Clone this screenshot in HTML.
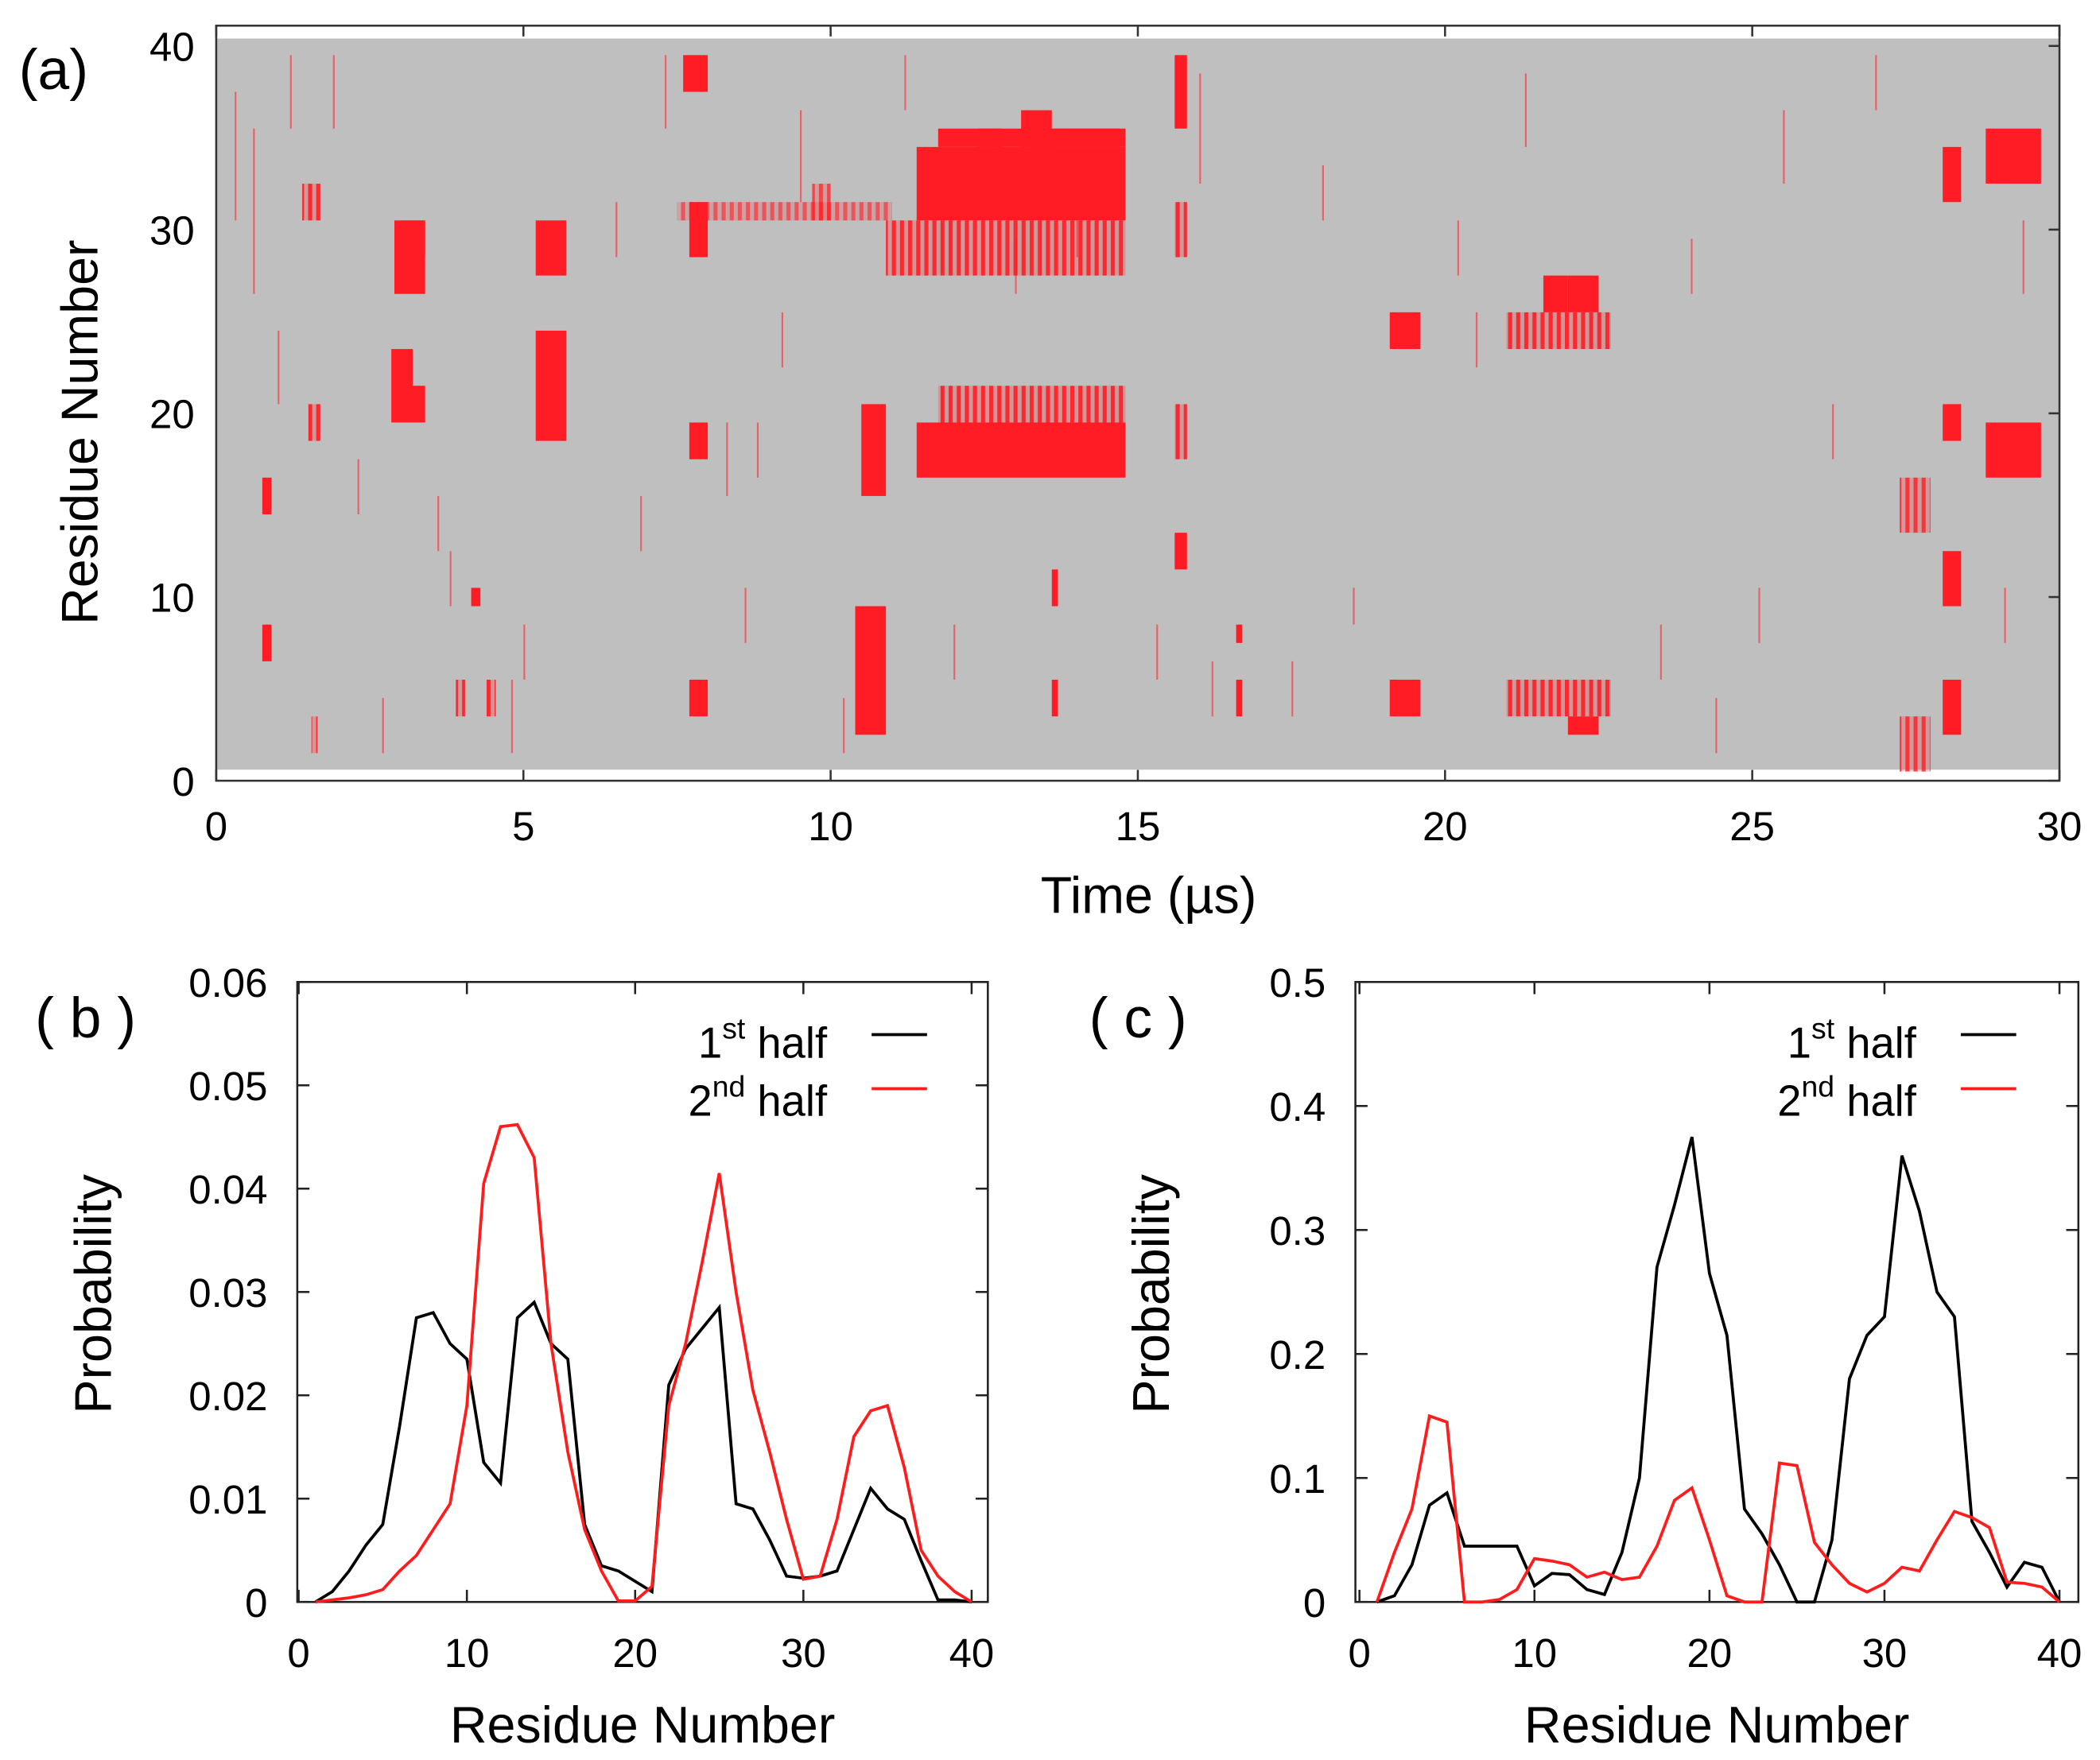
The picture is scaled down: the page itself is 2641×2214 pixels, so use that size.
<!DOCTYPE html>
<html><head><meta charset="utf-8"><style>
html,body{margin:0;padding:0;background:#fff}
svg{display:block}
text{font-family:"Liberation Sans",sans-serif;fill:#000}
</style></head><body>
<svg id="fig" width="2641" height="2214" viewBox="0 0 1554 1303" preserveAspectRatio="none" xmlns="http://www.w3.org/2000/svg">
<defs>
<pattern id="stripes" patternUnits="userSpaceOnUse" width="6" height="10">
<rect x="0" y="0" width="6" height="10" fill="#ff1c24" fill-opacity="0.25"/>
<rect x="0" y="0" width="3" height="10" fill="#ff1c24" fill-opacity="0.9"/>
</pattern>
</defs>
<rect x="0" y="0" width="1554" height="1303" fill="#fff"/>
<g id="pa"></g>
<g id="pb"></g>
<g id="pc"></g>
</svg>
<script>
// ---------- panel (a) data: [t0, t1, r0, r1] in µs / residue ----------
const blockStarts = [11.4,11.75,12.4,13.1,13.3,11.4,11.75,10.4,10.5,2.9,3.0,2.85,2.95,5.2,5.2,7.7,7.7,7.7,7.6,19.1,19.1,21.0,21.6,22.0,21.0,22.0,28.8,28.8,28.1,28.1,28.1,28.1,27.4,27.4,15.6,15.6,15.6,15.6,0.75,0.75,1.4,1.5,1.55,4.15,3.9,4.4,16.6,16.6,13.6,13.6,9.7,6.3,6.2,7.5,10.9];
const blockEnds   = [14.8,14.8,12.8,13.6,14.7,14.8,14.8,10.9,10.9,3.4,3.4,3.2,3.4,5.7,5.7,8.0,8.0,8.0,8.0,19.6,19.6,22.7,22.0,22.5,22.7,22.5,29.7,29.7,28.4,28.4,28.4,28.4,27.9,27.9,15.8,15.8,15.8,15.8,0.9,0.9,1.7,1.7,1.65,4.3,4.05,4.55,16.7,16.7,13.7,13.7,10.0,6.1,6.0,11.0,14.8];
const blockLo     = [30.5,34.5,34.5,34.5,34.5,16.5,19.5,2.5,15.5,26.5,28.5,19.5,19.5,27.5,18.5,17.5,28.5,3.5,37.5,23.5,3.5,23.5,25.5,2.5,3.5,25.5,32.5,16.5,9.5,2.5,31.5,18.5,13.5,0.5,35.5,11.5,28.5,17.5,14.5,6.5,30.5,18.5,1.5,9.5,3.5,3.5,3.5,7.5,3.5,9.5,30.5,30.5,18.5,30.5,27.5];
const blockHi     = [34.5,35.5,35.5,36.5,35.5,19.5,21.5,9.5,20.5,30.5,30.5,23.5,21.5,30.5,24.5,19.5,31.5,5.5,39.5,25.5,5.5,25.5,27.5,3.5,5.5,27.5,35.5,19.5,12.5,5.5,34.5,20.5,16.5,3.5,39.5,13.5,31.5,20.5,16.5,8.5,32.5,20.5,3.5,10.5,5.5,5.5,5.5,8.5,5.5,11.5,32.5,31.5,19.5,31.5,30.5];
const blockAlpha  = [1,1,1,1,1,1,0.7,1,1,1,1,1,1,1,1,1,1,1,1,1,1,0.7,1,1,0.7,1,1,1,1,1,1,1,0.6,0.6,1,1,0.7,0.7,1,1,0.9,0.9,0.9,1,0.8,0.8,1,1,1,1,0.5,0.35,0.35,0.4,0.7];
// thin scattered lines: time, residue low, residue high
const lineT  = [0.3,0.6,1.0,1.2,1.9,2.3,2.7,3.8,4.8,5.0,6.5,6.9,7.3,8.3,8.6,9.2,9.5,10.2,11.2,13.0,14.0,15.3,16.0,17.5,18.5,20.5,21.3,23.5,24.0,25.1,25.5,26.3,27.0,29.1,29.4,3.6,8.8,12.0,16.2,18.0,20.2,24.4];
const lineLo = [30.5,26.5,20.5,35.5,35.5,14.5,1.5,9.5,1.5,5.5,28.5,12.5,35.5,15.5,7.5,22.5,31.5,1.5,36.5,26.5,28.5,5.5,32.5,3.5,8.5,22.5,34.5,5.5,26.5,7.5,32.5,17.5,36.5,7.5,26.5,12.5,16.5,5.5,3.5,30.5,27.5,1.5];
const lineHi = [37.5,35.5,24.5,39.5,39.5,17.5,4.5,12.5,5.5,8.5,31.5,15.5,39.5,19.5,10.5,25.5,36.5,4.5,39.5,29.5,31.5,8.5,38.5,6.5,10.5,25.5,38.5,8.5,29.5,10.5,36.5,20.5,39.5,10.5,30.5,15.5,19.5,8.5,6.5,33.5,30.5,4.5];

// ---------- panel (b)/(c) data ----------
const residues = [1,2,3,4,5,6,7,8,9,10,11,12,13,14,15,16,17,18,19,20,21,22,23,24,25,26,27,28,29,30,31,32,33,34,35,36,37,38,39,40];
const bFirst  = [0,0.001,0.003,0.0055,0.0075,0.017,0.0275,0.028,0.025,0.0235,0.0135,0.0115,0.0275,0.029,0.025,0.0235,0.0075,0.0035,0.003,0.002,0.001,0.021,0.0245,0.0265,0.0285,0.0095,0.009,0.006,0.0025,0.0023,0.0025,0.003,0.007,0.011,0.009,0.008,0.004,0.0002,0.0002,0];
const bSecond = [0,0.0002,0.0004,0.0007,0.0012,0.003,0.0045,0.007,0.0095,0.019,0.0405,0.046,0.0462,0.043,0.025,0.0145,0.007,0.003,0.0001,0.0001,0.0015,0.019,0.025,0.033,0.0415,0.03,0.0205,0.0145,0.008,0.0022,0.0025,0.008,0.016,0.0185,0.019,0.013,0.005,0.0025,0.001,0];
const cFirst  = [0,0.005,0.03,0.078,0.088,0.045,0.045,0.045,0.045,0.013,0.023,0.022,0.01,0.006,0.04,0.1,0.27,0.32,0.375,0.265,0.215,0.075,0.055,0.03,0,0,0.05,0.18,0.215,0.23,0.36,0.315,0.25,0.23,0.065,0.04,0.012,0.032,0.028,0];
const cSecond = [0,0.04,0.075,0.15,0.145,0,0,0.002,0.01,0.035,0.033,0.03,0.02,0.024,0.018,0.02,0.045,0.082,0.092,0.05,0.005,0,0,0.112,0.11,0.048,0.03,0.015,0.008,0.015,0.028,0.025,0.05,0.073,0.068,0.06,0.016,0.015,0.012,0];
const aXTicks = [0,5,10,15,20,25,30];
const aYTicks = [0,10,20,30,40];
const bYTicks = [0,0.01,0.02,0.03,0.04,0.05,0.06];
const bYLabels = ["0","0.01","0.02","0.03","0.04","0.05","0.06"];
const cYTicks = [0,0.1,0.2,0.3,0.4,0.5];
const cYLabels = ["0","0.1","0.2","0.3","0.4","0.5"];
const resTicks = [0,10,20,30,40];

const NS="http://www.w3.org/2000/svg";
function mk(parent,tag,attrs,txt){const e=document.createElementNS(NS,tag);for(const k in attrs)e.setAttribute(k,attrs[k]);if(txt!==undefined)e.textContent=txt;parent.appendChild(e);return e;}

// ---------- panel (a) ----------
(function(){
  const g=document.getElementById('pa');
  const L=160,R=1524,T=19,B=578;
  const xa=t=>L+(R-L)*t/30;
  const ya=r=>B-(B-34)*r/40;
  let bg=mk(g,'rect',{x:L,y:ya(40.4),width:R-L,height:ya(0.6)-ya(40.4),fill:'#c0bfbf'});
  
  
  for(let i=0;i<lineT.length;i++){
    const e=mk(g,'rect',{x:xa(lineT[i]),y:ya(lineHi[i]),width:1.3,height:ya(lineLo[i])-ya(lineHi[i]),fill:'#ff1c24','fill-opacity':0.55});
    
    
  }
  for(let i=0;i<blockStarts.length;i++){
    const a=blockAlpha[i];
    const attrs={x:xa(blockStarts[i]),y:ya(blockHi[i]),width:xa(blockEnds[i])-xa(blockStarts[i]),height:ya(blockLo[i])-ya(blockHi[i])};
    if(a<1){attrs.fill='url(#stripes)';attrs['fill-opacity']=Math.min(1,a+0.3);}
    else attrs.fill='#ff1c24';
    const e=mk(g,'rect',attrs);
    
    
  }
  const fr=mk(g,'rect',{x:L,y:T,width:R-L,height:B-T,fill:'none',stroke:'#333','stroke-width':1.5});
  
  
  aXTicks.forEach(v=>{
    mk(g,'line',{x1:xa(v),x2:xa(v),y1:B,y2:B-8,stroke:'#333','stroke-width':1.5});
    mk(g,'line',{x1:xa(v),x2:xa(v),y1:T,y2:T+8,stroke:'#333','stroke-width':1.5});
    const t=mk(g,'text',{x:xa(v),y:B+44,'text-anchor':'middle','font-size':30},String(v));
    
    
  });
  aYTicks.forEach(v=>{
    mk(g,'line',{x1:R,x2:R-8,y1:ya(v),y2:ya(v),stroke:'#333','stroke-width':1.5});
    const t=mk(g,'text',{x:L-16,y:ya(v)+11,'text-anchor':'end','font-size':30},String(v));
    
    
  });
  let t=mk(g,'text',{x:850,y:676,'text-anchor':'middle','font-size':38},'Time (µs)');
  
  
  t=mk(g,'text',{x:0,y:0,'text-anchor':'middle','font-size':38,transform:'translate(72,320) rotate(-90)'},'Residue Number');
  
  
  t=mk(g,'text',{x:14,y:66,'font-size':42},'(a)');
  
  
})();

// ---------- line panels ----------
function linePanel(id,L,R,x0,x40,ymax,yt,yl,s1,s2,lab,labX,legX){
  const g=document.getElementById(id);
  const T=727,B=1186;
  const xs=r=>x0+(x40-x0)*r/40;
  const ys=v=>B-(B-T)*v/ymax;
  const fr=mk(g,'rect',{x:L,y:T,width:R-L,height:B-T,fill:'none',stroke:'#222','stroke-width':1.5});
  
  
  resTicks.forEach(v=>{
    mk(g,'line',{x1:xs(v),x2:xs(v),y1:B,y2:B-9,stroke:'#222','stroke-width':1.5});
    mk(g,'line',{x1:xs(v),x2:xs(v),y1:T,y2:T+9,stroke:'#222','stroke-width':1.5});
    const t=mk(g,'text',{x:xs(v),y:B+48,'text-anchor':'middle','font-size':30},String(v));
    
    
  });
  yt.forEach((v,i)=>{
    mk(g,'line',{x1:L,x2:L+9,y1:ys(v),y2:ys(v),stroke:'#222','stroke-width':1.5});
    mk(g,'line',{x1:R,x2:R-9,y1:ys(v),y2:ys(v),stroke:'#222','stroke-width':1.5});
    const t=mk(g,'text',{x:L-22,y:ys(v)+11,'text-anchor':'end','font-size':30},yl[i]);
    
    
  });
  const p1=mk(g,'polyline',{points:residues.map((r,i)=>xs(r)+','+ys(s1[i])).join(' '),fill:'none',stroke:'#000','stroke-width':2.2});
  
  
  const p2=mk(g,'polyline',{points:residues.map((r,i)=>xs(r)+','+ys(s2[i])).join(' '),fill:'none',stroke:'#ff1c1c','stroke-width':2.2});
  
  
  let t=mk(g,'text',{x:legX,y:783,'text-anchor':'end','font-size':32});
  mk(t,'tspan',{},'1');mk(t,'tspan',{dy:-14,'font-size':22},'st');mk(t,'tspan',{dy:14},'  half');
  
  
  mk(g,'line',{x1:legX+33,x2:legX+74,y1:766,y2:766,stroke:'#000','stroke-width':2.2});
  t=mk(g,'text',{x:legX,y:826,'text-anchor':'end','font-size':32});
  mk(t,'tspan',{},'2');mk(t,'tspan',{dy:-14,'font-size':22},'nd');mk(t,'tspan',{dy:14},'  half');
  
  
  mk(g,'line',{x1:legX+33,x2:legX+74,y1:806,y2:806,stroke:'#ff1c1c','stroke-width':2.2});
  t=mk(g,'text',{x:(L+R)/2,y:1290,'text-anchor':'middle','font-size':38},'Residue Number');
  
  
  t=mk(g,'text',{x:0,y:0,'text-anchor':'middle','font-size':38,transform:'translate('+(L-138)+',958) rotate(-90)'},'Probability');
  
  
  t=mk(g,'text',{x:labX,y:768,'font-size':42},lab);
  
  
}
linePanel('pb',220,731,221,719,0.06,bYTicks,bYLabels,bFirst,bSecond,'( b )',26,612);
linePanel('pc',1003,1538,1006,1524,0.5,cYTicks,cYLabels,cFirst,cSecond,'( c )',806,1418);
</script>
</body></html>
